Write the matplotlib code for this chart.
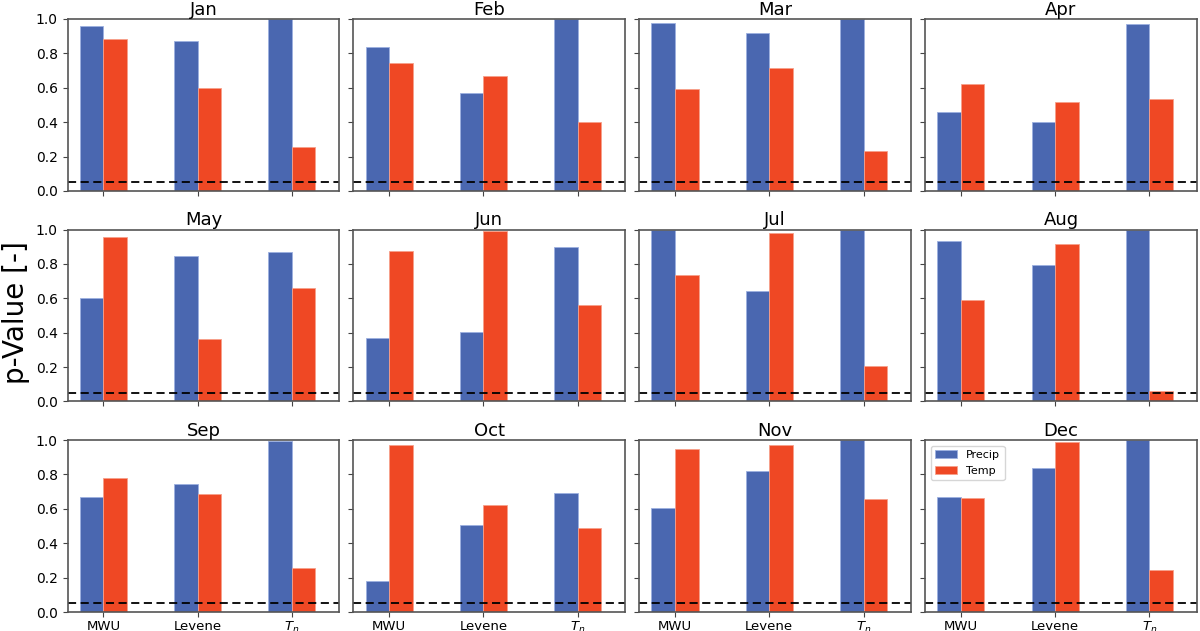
# -*- coding: utf-8 -*-
"""Monthly p-values of the MWU, Levene and T_n tests for precip and temp."""
import matplotlib
matplotlib.use("Agg")
import matplotlib.pyplot as plt
import numpy as np


MONTHS = ["Jan", "Feb", "Mar", "Apr", "May", "Jun",
          "Jul", "Aug", "Sep", "Oct", "Nov", "Dec"]
TESTS = ["MWU", "Levene", "$T_n$"]

# p-values per month, order: MWU, Levene, T_n
PRECIP = [
    [0.961, 0.874, 1.000],
    [0.839, 0.568, 1.000],
    [0.979, 0.920, 1.000],
    [0.457, 0.399, 0.973],
    [0.603, 0.845, 0.870],
    [0.367, 0.406, 0.901],
    [1.000, 0.644, 1.000],
    [0.936, 0.795, 1.000],
    [0.667, 0.744, 0.994],
    [0.182, 0.506, 0.694],
    [0.605, 0.820, 1.000],
    [0.666, 0.837, 1.000],
]
TEMP = [
    [0.884, 0.600, 0.258],
    [0.742, 0.667, 0.399],
    [0.593, 0.715, 0.231],
    [0.624, 0.517, 0.533],
    [0.955, 0.366, 0.658],
    [0.876, 0.992, 0.563],
    [0.733, 0.979, 0.205],
    [0.588, 0.913, 0.060],
    [0.779, 0.688, 0.254],
    [0.969, 0.620, 0.488],
    [0.946, 0.973, 0.657],
    [0.660, 0.986, 0.245],
]
ALPHA = 0.05

BLUE = "#4a67b0"
RED = "#ef4824"


def main():
    """Draw the 3x4 grid of bar charts."""
    fig, axes = plt.subplots(3, 4, figsize=(12, 6.31), dpi=100,
                             sharex=True, sharey=True)
    fig.subplots_adjust(left=67.5 / 1200, right=1197 / 1200,
                        top=1 - 19 / 631, bottom=1 - 612 / 631,
                        wspace=0.051, hspace=0.224)

    x = np.arange(len(TESTS))
    width = 0.25
    for i, ax in enumerate(axes.flat):
        ax.bar(x - width / 2, PRECIP[i], width, color=BLUE,
               edgecolor="#9cb0e0", linewidth=0.6, label="Precip")
        ax.bar(x + width / 2, TEMP[i], width, color=RED,
               edgecolor="#f7a08a", linewidth=0.6, label="Temp")
        ax.axhline(ALPHA, color="black", linestyle="--", linewidth=1.3,
                   dashes=(4.5, 2.5))
        ax.set_title(MONTHS[i], fontsize=13, pad=3)
        ax.set_ylim(0, 1.0)
        ax.set_xlim(-0.38, 2.505)
        ax.set_xticks(x)
        ax.set_xticklabels(TESTS, fontsize=9.5)
        ax.set_yticks([0, 0.2, 0.4, 0.6, 0.8, 1.0])
        ax.tick_params(labelsize=10, color="#444444")
        ax.tick_params(axis="x", labelsize=9.5, pad=2)
        for spine in ax.spines.values():
            spine.set_color("#555555")
            spine.set_linewidth(1.2)

    axes[-1, -1].legend(loc="upper left", fontsize=8, handlelength=2.0,
                        borderaxespad=0.5)
    fig.text(0.002, 0.505, "p-Value [-]", rotation=90, va="center",
             ha="left", fontsize=20)

    fig.savefig("out.png", dpi=100)


if __name__ == "__main__":
    main()
